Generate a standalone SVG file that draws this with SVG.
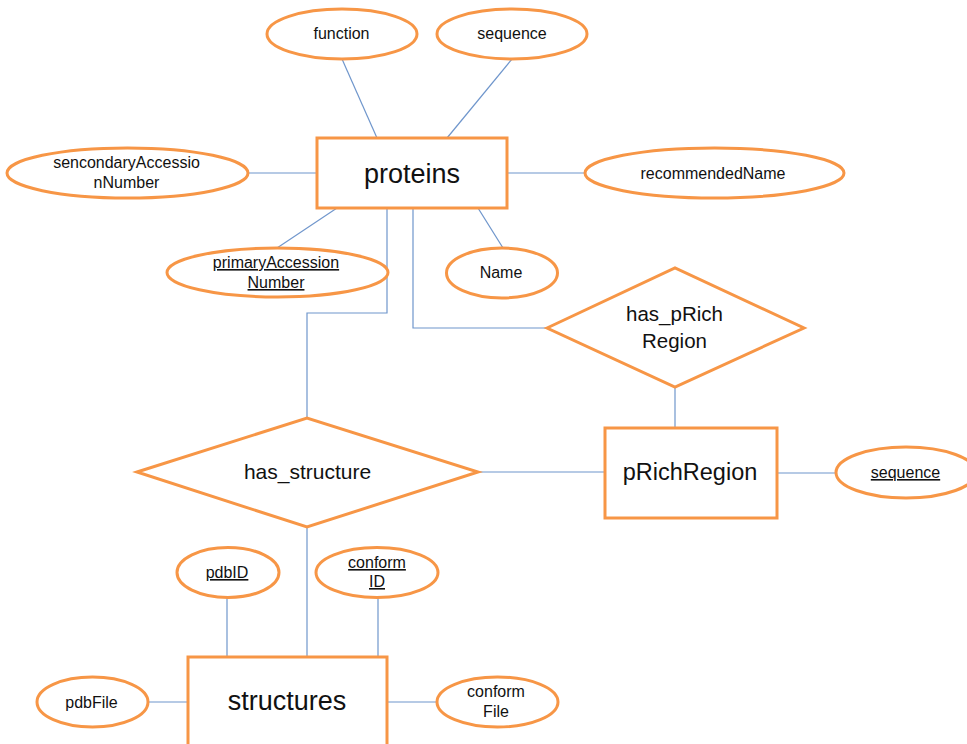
<svg xmlns="http://www.w3.org/2000/svg" width="967" height="744" viewBox="0 0 967 744">
  <style>
    .shape { fill: #ffffff; stroke: #F79646; stroke-width: 3; }
    .link { fill: none; stroke: #6F96CC; stroke-width: 1.2; }
    text { font-family: "Liberation Sans", Arial, sans-serif; fill: #111111; text-anchor: middle; }
    .attr { font-size: 16px; }
    .key { text-decoration: underline; }
    .rel { font-size: 20.5px; }
    .ent { font-size: 27px; }
  </style>
  <rect width="967" height="744" fill="#ffffff"/>

  <!-- connectors -->
  <g id="connectors">
    <line class="link" x1="342" y1="59" x2="377" y2="138"/>
    <line class="link" x1="512" y1="59" x2="447" y2="138"/>
    <line class="link" x1="248" y1="173" x2="317" y2="173"/>
    <line class="link" x1="507" y1="173" x2="585" y2="173"/>
    <line class="link" x1="337" y1="208" x2="277" y2="248"/>
    <line class="link" x1="478" y1="208" x2="503" y2="248"/>
    <polyline class="link" points="387,208 387,313 307,313 307,418"/>
    <polyline class="link" points="413,208 413,328 547,328"/>
    <line class="link" x1="675" y1="387" x2="675" y2="428"/>
    <line class="link" x1="478" y1="472" x2="605" y2="472"/>
    <line class="link" x1="777" y1="473" x2="836" y2="473"/>
    <line class="link" x1="307" y1="527" x2="307" y2="657"/>
    <line class="link" x1="227" y1="598" x2="227" y2="657"/>
    <line class="link" x1="378" y1="598" x2="378" y2="657"/>
    <line class="link" x1="148" y1="702" x2="188" y2="702"/>
    <line class="link" x1="387" y1="702" x2="437" y2="702"/>
  </g>

  <!-- entity: proteins -->
  <g id="proteins">
    <rect class="shape" x="317" y="138" width="190" height="70"/>
    <text class="ent" x="412" y="183">proteins</text>
  </g>

  <g id="attr-function">
    <ellipse class="shape" cx="342" cy="34" rx="75" ry="25"/>
    <text class="attr" x="341.5" y="39">function</text>
  </g>
  <g id="attr-protein-sequence">
    <ellipse class="shape" cx="512" cy="34" rx="75" ry="25"/>
    <text class="attr" x="512" y="39">sequence</text>
  </g>
  <g id="attr-secondary-accession">
    <ellipse class="shape" cx="127.5" cy="173" rx="120.5" ry="25"/>
    <text class="attr" x="126.5" y="168">sencondaryAccessio</text>
    <text class="attr" x="126.5" y="188">nNumber</text>
  </g>
  <g id="attr-recommended-name">
    <ellipse class="shape" cx="714.5" cy="173" rx="129.5" ry="25"/>
    <text class="attr" x="713" y="179">recommendedName</text>
  </g>
  <g id="attr-primary-accession">
    <ellipse class="shape" cx="277.5" cy="272.5" rx="110.5" ry="24.5"/>
    <text class="attr key" x="276" y="268">primaryAccession</text>
    <text class="attr key" x="276" y="288">Number</text>
  </g>
  <g id="attr-name">
    <ellipse class="shape" cx="502" cy="273" rx="55.5" ry="25"/>
    <text class="attr" x="501" y="278">Name</text>
  </g>

  <!-- relationship: has_pRichRegion -->
  <g id="has-prich-region">
    <polygon class="shape" points="547,328 675,268 804,328 675,387"/>
    <text class="rel" x="674.5" y="321">has_pRich</text>
    <text class="rel" x="674.5" y="348">Region</text>
  </g>

  <!-- entity: pRichRegion -->
  <g id="prich-region">
    <rect class="shape" x="605" y="428" width="172" height="90"/>
    <text class="ent" x="690" y="480" style="font-size:23.5px">pRichRegion</text>
  </g>
  <g id="attr-region-sequence">
    <ellipse class="shape" cx="906" cy="472.5" rx="70" ry="25.5"/>
    <text class="attr key" x="905.5" y="478">sequence</text>
  </g>

  <!-- relationship: has_structure -->
  <g id="has-structure">
    <polygon class="shape" points="137,472 307,418 478,472 307,527"/>
    <text class="rel" x="307.5" y="479" style="font-size:21px">has_structure</text>
  </g>

  <!-- entity: structures -->
  <g id="structures">
    <rect class="shape" x="188" y="657" width="199" height="110"/>
    <text class="ent" x="287" y="710">structures</text>
  </g>
  <g id="attr-pdbid">
    <ellipse class="shape" cx="228" cy="572.5" rx="51" ry="25"/>
    <text class="attr key" x="227" y="578">pdbID</text>
  </g>
  <g id="attr-conform-id">
    <ellipse class="shape" cx="377" cy="572.5" rx="61" ry="25"/>
    <text class="attr key" x="377" y="568">conform</text>
    <text class="attr key" x="377" y="587">ID</text>
  </g>
  <g id="attr-pdbfile">
    <ellipse class="shape" cx="92.5" cy="702" rx="55.5" ry="25"/>
    <text class="attr" x="91.5" y="708">pdbFile</text>
  </g>
  <g id="attr-conform-file">
    <ellipse class="shape" cx="497.5" cy="702" rx="60.5" ry="25"/>
    <text class="attr" x="496" y="697">conform</text>
    <text class="attr" x="496" y="717">File</text>
  </g>
</svg>
